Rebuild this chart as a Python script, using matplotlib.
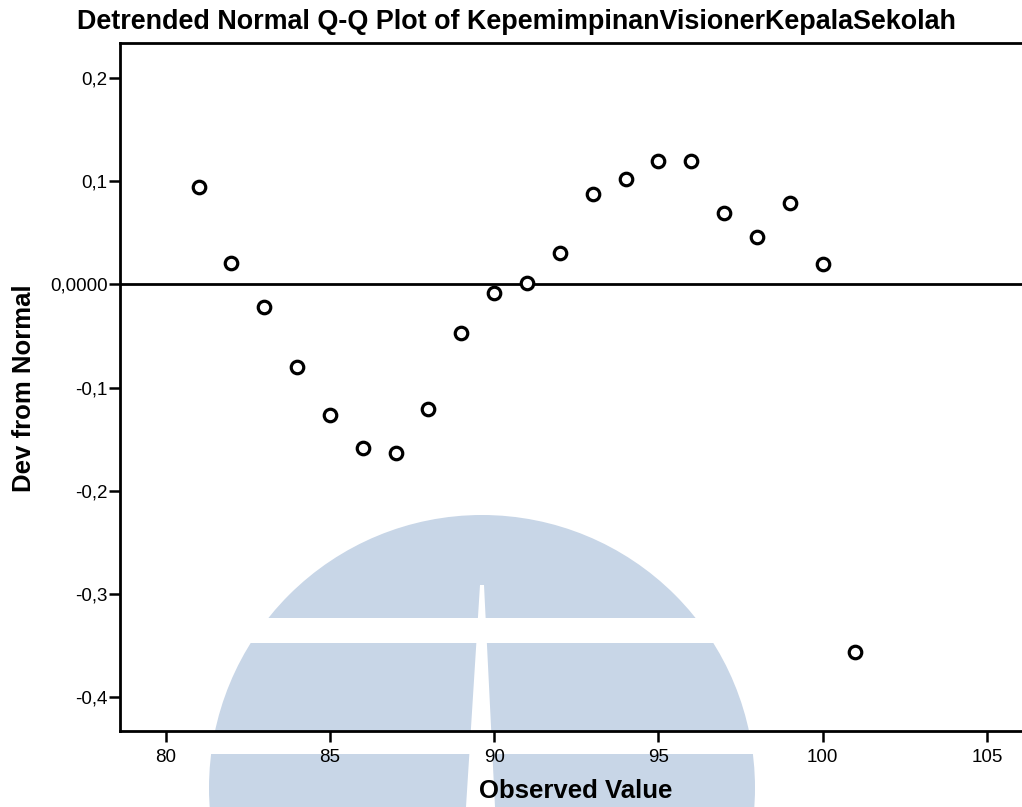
import matplotlib
matplotlib.use("Agg")
import matplotlib.pyplot as plt
from matplotlib.patches import Circle, Rectangle, Polygon

plt.rcParams['font.family'] = ['Liberation Sans', 'DejaVu Sans']

observed = [81, 82, 83, 84, 85, 86, 87, 88, 89, 90, 91,
            92, 93, 94, 95, 96, 97, 98, 99, 100, 101]
dev_from_normal = [0.094, 0.0204, -0.0223, -0.0805, -0.1267, -0.1584, -0.1632,
                   -0.1209, -0.0469, -0.0081, 0.001, 0.0306, 0.0875, 0.1018,
                   0.1195, 0.1198, 0.0691, 0.0461, 0.0791, 0.020, -0.3561]

x_ticks = [80, 85, 90, 95, 100, 105]
y_ticks = [0.2, 0.1, 0.0, -0.1, -0.2, -0.3, -0.4]
y_tick_labels = ['0,2', '0,1', '0,0000', '-0,1', '-0,2', '-0,3', '-0,4']

W, H = 1022, 807
fig = plt.figure(figsize=(W / 100, H / 100), dpi=100)
fig.patch.set_facecolor('white')

# watermark logo behind the chart (pixel coords)
bg = fig.add_axes([0, 0, 1, 1], zorder=0)
bg.set_xlim(0, W)
bg.set_ylim(H, 0)
bg.axis('off')
logo = '#c8d6e7'
bg.add_patch(Circle((482, 788), 273, color=logo, lw=0))
bg.add_patch(Rectangle((150, 618), 700, 25, color='white', lw=0))
bg.add_patch(Rectangle((150, 731), 700, 23, color='white', lw=0))
bg.add_patch(Polygon([(480, 585), (484, 585), (495, H), (466, H)],
                     closed=True, color='white', lw=0))

ax = fig.add_axes([120 / W, 1 - 731 / H, 1 - 120 / W, (731 - 43) / H], zorder=1)
ax.set_facecolor('none')

ax.axhline(0, color='black', lw=2, zorder=2)
ax.plot(observed, dev_from_normal, linestyle='none', marker='o',
        markersize=9, markerfacecolor='white', markeredgecolor='black',
        markeredgewidth=2.3, zorder=3)

ax.set_xlim(78.61, 106.07)
ax.set_ylim(-0.433, 0.234)
ax.set_xticks(x_ticks)
ax.set_yticks(y_ticks)
ax.set_yticklabels(y_tick_labels)

for side in ['left', 'bottom', 'top']:
    ax.spines[side].set_linewidth(2)
    ax.spines[side].set_color('black')
ax.spines['right'].set_visible(False)

ax.tick_params(axis='y', direction='out', length=8, width=1.8, pad=1,
               labelsize=13.5, colors='black')
ax.tick_params(axis='x', direction='out', length=8, width=1.8, pad=5,
               labelsize=13.5, colors='black')

fig.text(516 / W, 1 - 22 / H, 'Detrended Normal Q-Q Plot of KepemimpinanVisionerKepalaSekolah',
         ha='center', va='center', fontsize=19.4, fontweight='bold')
fig.text(576 / W, 1 - 791 / H, 'Observed Value', ha='center', va='center',
         fontsize=18.5, fontweight='bold')
fig.text(24 / W, 1 - 388 / H, 'Dev from Normal', ha='center', va='center',
         rotation=90, fontsize=18.5, fontweight='bold')

fig.savefig('out.png', dpi=100, facecolor='white')
